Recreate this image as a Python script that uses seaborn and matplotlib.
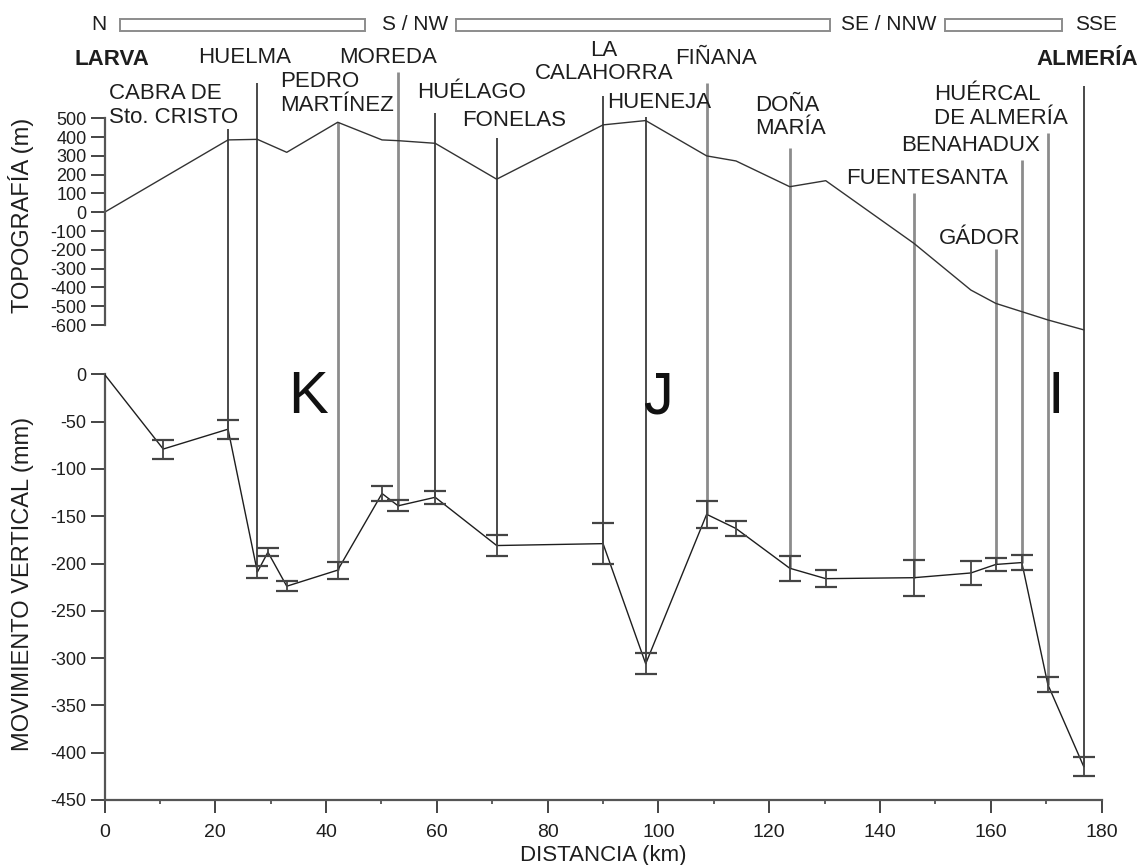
import matplotlib
matplotlib.use("Agg")
import matplotlib.pyplot as plt
from matplotlib.patches import Rectangle
from matplotlib.ticker import MultipleLocator
import pandas as pd
import seaborn as sns

# Levelling benchmarks along the Larva - Almería line
distance_km = [0, 10.6, 22.3, 27.6, 29.5, 32.9, 42.1, 50.1, 53.0, 59.7, 70.8, 90.0,
               97.7, 108.7, 114.0, 123.7, 130.2, 146.1, 156.4, 160.9, 165.6, 170.3, 176.8]
vertical_mm = [0, -79, -58, -209, -188, -224, -207, -126, -139, -130, -181, -179,
               -306, -148, -163, -205, -216, -215, -210, -201, -199, -328, -415]
error_mm = [0, 10, 10, 6, 4, 5, 9, 8, 6, 7, 11, 22,
            11, 14, 8, 13, 9, 19, 13, 7, 8, 8, 10]

# Topographic profile (m)
topo_km = [0, 22.3, 27.6, 32.9, 42.1, 50.1, 53.0, 59.7, 70.8, 90.0, 97.7, 108.7,
           114.0, 123.7, 130.2, 146.1, 156.4, 160.9, 165.6, 170.3, 176.8]
topo_m = [0, 385, 388, 319, 479, 385, 381, 367, 176, 465, 488, 300,
          273, 136, 168, -165, -414, -485, -529, -573, -626]

# Named benchmarks: index into the arrays above
station_names = ["CABRA DE\nSto. CRISTO", "HUELMA", "PEDRO\nMARTÍNEZ", "MOREDA", "HUÉLAGO",
                 "FONELAS", "LA\nCALAHORRA", "HUENEJA", "FIÑANA", "DOÑA\nMARÍA",
                 "FUENTESANTA", "GÁDOR", "BENAHADUX", "HUÉRCAL\nDE ALMERÍA", "ALMERÍA"]
station_idx = [2, 3, 6, 8, 9, 10, 11, 12, 13, 15, 17, 19, 20, 21, 22]

# Direction of the line segments
dir_labels = ["N", "S / NW", "SE / NNW", "SSE"]
dir_label_km = [-1.0, 56.0, 141.6, 179.0]
dir_bar_start = [2.8, 63.4, 151.7]
dir_bar_end = [47.0, 131.0, 172.9]

zones = ["K", "J", "I"]
zone_km = [36.7, 99.9, 171.8]

x_ticks = [0, 20, 40, 60, 80, 100, 120, 140, 160, 180]
mov_ticks = [0, -50, -100, -150, -200, -250, -300, -350, -400, -450]
topo_ticks = [500, 400, 300, 200, 100, 0, -100, -200, -300, -400, -500, -600]

# ---- layout of the annotation block (axis units of the lower scale) ----
line_top = [259, 308, 267, 320, 276, 250, 294, 272, 308, 239, 192, 132, 227, 255, 305]
line_dark = [True, True, False, False, True, True, True, True, False, False,
             False, False, False, False, True]
label_pos = [(0.8, 284, "left"), (16.9, 335, "left"), (31.7, 297, "left"),
             (42.3, 335, "left"), (56.4, 298, "left"), (64.5, 268, "left"),
             (90.2, 330, "center"), (90.7, 287, "left"), (103.0, 334, "left"),
             (117.4, 272, "left"), (133.8, 207, "left"), (150.6, 144, "left"),
             (143.8, 242, "left"), (149.7, 283, "left"), (186.6, 333, "right")]

sns.set_theme(style="ticks")
plt.rcParams["font.family"] = ["Liberation Sans", "DejaVu Sans"]
plt.rcParams["axes.unicode_minus"] = False

INK = "#1e1e1e"
GREY = "#8c8c8c"

fig = plt.figure(figsize=(11.41, 8.65), dpi=100)
fig.patch.set_facecolor("white")
ax = fig.add_axes([104.5 / 1141, 65 / 865, 997.1 / 1141, 800 / 865])
ax.set_facecolor("none")
ax.set_xlim(0, 180)
ax.set_ylim(-450, 395.7)

# topography on its own vertical scale, sharing the distance axis
ax2 = ax.twinx()
ax2.set_ylim(-3127.8, 1129.6)
ax2.set_facecolor("none")

topo_df = pd.DataFrame({"km": topo_km, "m": topo_m})
sns.lineplot(data=topo_df, x="km", y="m", ax=ax2, color="#333333", linewidth=1.0)

# station markers
for i, top, dark in zip(station_idx, line_top, line_dark):
    ax.vlines(distance_km[i], vertical_mm[i], top,
              color="#3a3a3a" if dark else GREY,
              linewidth=1.3 if dark else 2.0, zorder=1)

mov_df = pd.DataFrame({"km": distance_km, "mm": vertical_mm, "err": error_mm})
sns.lineplot(data=mov_df, x="km", y="mm", ax=ax, color=INK, linewidth=1.0, zorder=3)
eb = mov_df[mov_df["err"] > 0]
ax.errorbar(eb["km"], eb["mm"], yerr=eb["err"], fmt="none", ecolor="#444444",
            elinewidth=1.3, capsize=8, capthick=1.6, zorder=4)

# station names
for name, (x, y, ha) in zip(station_names, label_pos):
    bold = name == "ALMERÍA"
    ax.text(x, y, name, ha=ha, va="center", fontsize=16, color=INK,
            fontweight="bold" if bold else "normal", linespacing=1.15,
            multialignment="center" if ha == "center" else "left")
ax.text(-5.5, 333, "LARVA", ha="left", va="center", fontsize=16,
        fontweight="bold", color=INK)

# direction bar
for x0, x1 in zip(dir_bar_start, dir_bar_end):
    ax.add_patch(Rectangle((x0, 363), x1 - x0, 12.5, facecolor="white",
                           edgecolor=GREY, linewidth=1.4, clip_on=False))
for lab, x in zip(dir_labels, dir_label_km):
    ax.text(x, 370, lab, ha="center", va="center", fontsize=15, color=INK)

for z, x in zip(zones, zone_km):
    ax.text(x, -25, z, ha="center", va="center", fontsize=43, color="#111111")

# axes styling
for s in ["top", "right"]:
    ax.spines[s].set_visible(False)
    ax2.spines[s].set_visible(False)
ax2.spines["bottom"].set_visible(False)
ax.spines["left"].set_bounds(-450, 0)
ax2.spines["left"].set_visible(True)
ax2.spines["left"].set_bounds(-600, 500)
for sp in [ax.spines["left"], ax.spines["bottom"], ax2.spines["left"]]:
    sp.set_color("#555555")
    sp.set_linewidth(1.6)

ax.set_xticks(x_ticks)
ax.xaxis.set_minor_locator(MultipleLocator(10))
ax.set_yticks(mov_ticks)
ax2.yaxis.set_ticks_position("left")
ax2.yaxis.set_label_position("left")
ax2.set_yticks(topo_ticks)
ax2.tick_params(axis="y", which="both", left=True, right=False,
                labelleft=True, labelright=False)

ax.tick_params(axis="x", which="major", length=9, width=1.4, pad=8,
               labelsize=14, colors="#444444", labelcolor=INK)
ax.tick_params(axis="x", which="minor", length=3, width=1.2, colors="#444444")
ax.tick_params(axis="y", length=10, width=1.4, pad=3, labelsize=13,
               colors="#444444", labelcolor=INK)
ax2.tick_params(axis="y", length=10, width=1.4, pad=3, labelsize=13,
                colors="#444444", labelcolor=INK)

ax.set_xlabel("DISTANCIA (km)", fontsize=16, color=INK)
ax.xaxis.set_label_coords(0.5, -0.056)
ax.set_ylabel("MOVIMIENTO VERTICAL (mm)", fontsize=17, color=INK)
ax.yaxis.set_label_coords(-0.071, 0.27)
ax2.set_ylabel("TOPOGRAFÍA (m)", fontsize=17, color=INK)
ax2.yaxis.set_label_coords(-0.071, 0.731)

fig.savefig("out.png", dpi=100, facecolor="white")
